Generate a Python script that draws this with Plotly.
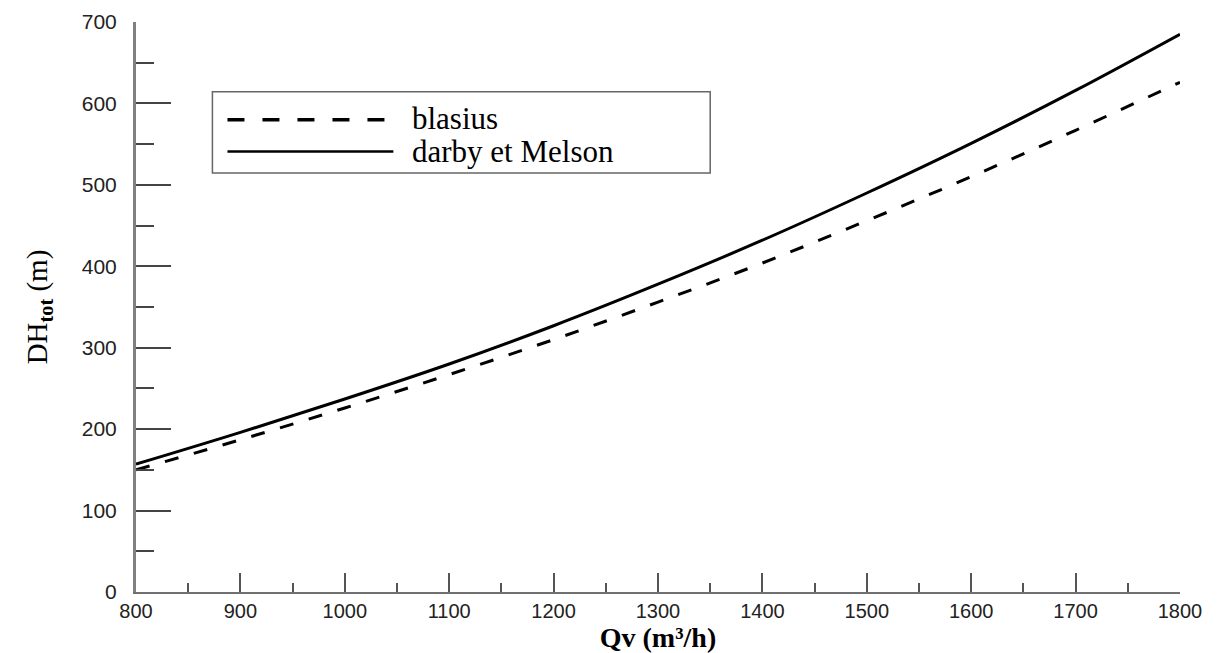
import plotly.graph_objects as go

# Data
qv = [800, 900, 1000, 1100, 1200, 1300, 1400, 1500, 1600, 1700, 1800]
blasius = [150, 187, 226, 267, 310, 356, 404, 456, 510, 567, 626]
darby_melson = [157, 196, 237, 280, 327, 378, 432, 490, 551, 616, 685]

x_range = [800, 1800]
y_range = [0, 700]
x_tickvals = [800, 900, 1000, 1100, 1200, 1300, 1400, 1500, 1600, 1700, 1800]
y_tickvals = [0, 100, 200, 300, 400, 500, 600, 700]

legend_names = ["blasius", "darby et Melson"]

fig = go.Figure()
fig.add_trace(go.Scatter(
    x=qv, y=blasius, mode="lines", name=legend_names[0],
    line=dict(color="black", width=3, dash="14px,16px", shape="spline"),
    showlegend=False,
))
fig.add_trace(go.Scatter(
    x=qv, y=darby_melson, mode="lines", name=legend_names[1],
    line=dict(color="black", width=3, shape="spline"),
    showlegend=False,
))

# Manual legend box (matches the wide line samples of the reference)
fig.add_shape(type="rect", xref="paper", yref="paper",
              x0=0.0732, x1=0.550, y0=0.7353, y1=0.8776,
              line=dict(color="#666666", width=1.5), fillcolor="white", layer="above")
fig.add_shape(type="line", xref="paper", yref="paper",
              x0=0.0876, x1=0.2389, y0=0.8284, y1=0.8284,
              line=dict(color="black", width=3.5, dash="17px,18px"))
fig.add_shape(type="line", xref="paper", yref="paper",
              x0=0.0876, x1=0.2465, y0=0.7727, y1=0.7727,
              line=dict(color="black", width=2.5))
fig.add_annotation(xref="paper", yref="paper", x=0.2628, y=0.8302,
                   text=legend_names[0], showarrow=False, xanchor="left", yanchor="middle",
                   font=dict(family="Liberation Serif", size=31, color="black"))
fig.add_annotation(xref="paper", yref="paper", x=0.2628, y=0.7720,
                   text=legend_names[1], showarrow=False, xanchor="left", yanchor="middle",
                   font=dict(family="Liberation Serif", size=31, color="black"))

# page body adds an 8px margin, so the figure is sized/offset to compensate
fig.update_layout(
    width=1221, height=645,
    margin=dict(l=127.5, r=49, t=14, b=61.4),
    paper_bgcolor="white", plot_bgcolor="white",
    showlegend=False,
)

fig.update_xaxes(
    range=x_range, tickvals=x_tickvals, automargin=False,
    showgrid=False, zeroline=False,
    showline=True, linecolor="#707070", linewidth=2,
    ticks="inside", ticklen=19, tickwidth=2, tickcolor="#555555",
    minor=dict(ticks="inside", ticklen=9, tickwidth=2, tickcolor="#555555", dtick=50, showgrid=False),
    tickfont=dict(family="Liberation Sans", size=20, color="#222222"),
    ticklabelstandoff=0,
    title=dict(text="<b>Qv (m³/h)</b>",
               font=dict(family="Liberation Serif", size=28, color="black"), standoff=5),
)
fig.update_yaxes(
    range=y_range, tickvals=y_tickvals, automargin=False,
    showgrid=False, zeroline=False,
    showline=True, linecolor="#808080", linewidth=3,
    ticks="inside", ticklen=35, tickwidth=1.5, tickcolor="#444444",
    minor=dict(ticks="inside", ticklen=18, tickwidth=1.5, tickcolor="#444444", dtick=50, showgrid=False),
    tickfont=dict(family="Liberation Sans", size=21, color="#222222"),
    ticklabelstandoff=12,
    title=dict(text="DH<sub><b>tot</b></sub> (m)",
               font=dict(family="Liberation Serif", size=29, color="black"), standoff=26),
)

fig.write_html("out.html")
